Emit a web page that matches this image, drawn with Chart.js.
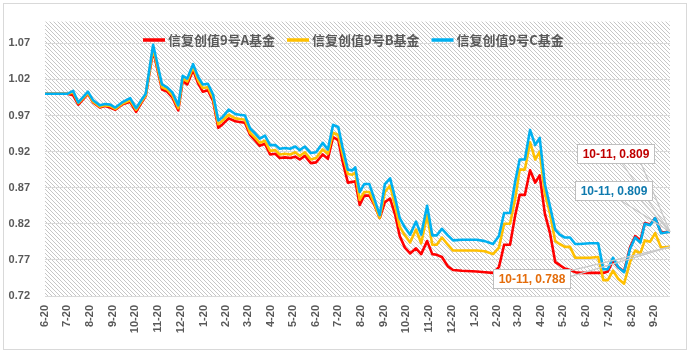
<!DOCTYPE html>
<html><head><meta charset="utf-8">
<script src="https://cdn.jsdelivr.net/npm/chart.js@4/dist/chart.umd.min.js"></script>
<style>html,body{margin:0;padding:0;background:#fff;}#wrap{width:693px;height:355px;}</style>
</head><body><div id="wrap"><canvas id="c" width="693" height="355"></canvas></div>
<script>
// days since the first date (6-20)
const dayOffsets = [
0,30,38,45,58,65,74,81,88,95,
104,115,123,130,136,146,158,165,172,180,
186,192,200,207,213,220,227,234,240,248,
257,263,270,277,284,290,297,304,311,317,
324,331,338,344,351,359,366,375,382,389,
396,402,409,415,419,425,431,438,444,452,
459,466,473,479,486,493,501,508,516,523,
529,536,544,551,563,583,594,605,613,620,
628,635,641,648,655,662,668,675,682,689,
695,702,709,716,722,736,747,754,760,767,
774,782,790,797,804,810,817,824,832,844];
const endDateLabel = '10-11';
const seriesNames = ['信复创值9号A基金','信复创值9号B基金','信复创值9号C基金'];
const fundA = [
1.000,1.000,0.998,0.985,1.000,0.988,0.981,0.983,0.981,0.978,
0.985,0.989,0.975,0.987,0.997,1.060,1.006,1.003,0.995,0.977,
1.018,1.013,1.033,1.014,1.003,1.005,0.990,0.953,0.958,0.966,
0.962,0.961,0.960,0.943,0.935,0.928,0.931,0.916,0.917,0.911,
0.912,0.911,0.913,0.909,0.914,0.904,0.905,0.916,0.910,0.940,
0.936,0.906,0.877,0.878,0.879,0.846,0.859,0.859,0.848,0.828,
0.850,0.855,0.832,0.803,0.787,0.779,0.786,0.778,0.796,0.778,
0.777,0.774,0.761,0.756,0.755,0.754,0.753,0.752,0.760,0.791,
0.791,0.832,0.860,0.860,0.894,0.877,0.887,0.834,0.807,0.767,
0.763,0.758,0.756,0.753,0.752,0.752,0.752,0.752,0.754,0.769,
0.760,0.754,0.787,0.803,0.797,0.821,0.819,0.828,0.808,0.809];
const fundB = [
1.000,1.000,1.002,0.987,1.001,0.989,0.982,0.984,0.983,0.979,
0.986,0.991,0.978,0.989,0.998,1.063,1.009,1.006,0.998,0.980,
1.021,1.017,1.037,1.018,1.008,1.009,0.994,0.958,0.963,0.971,
0.966,0.965,0.964,0.946,0.939,0.932,0.935,0.921,0.922,0.916,
0.917,0.916,0.919,0.914,0.919,0.909,0.911,0.923,0.917,0.946,
0.943,0.916,0.889,0.888,0.891,0.853,0.864,0.864,0.850,0.828,
0.864,0.873,0.844,0.816,0.804,0.794,0.812,0.793,0.832,0.791,
0.791,0.801,0.791,0.783,0.783,0.783,0.782,0.778,0.787,0.820,
0.820,0.855,0.895,0.895,0.933,0.909,0.920,0.862,0.834,0.796,
0.792,0.788,0.788,0.773,0.773,0.773,0.774,0.742,0.742,0.755,
0.744,0.737,0.767,0.783,0.779,0.797,0.795,0.807,0.787,0.788];
const fundC = [
1.000,1.000,1.004,0.988,1.003,0.991,0.984,0.986,0.985,0.981,
0.988,0.994,0.980,0.991,1.000,1.068,1.013,1.009,1.002,0.984,
1.025,1.021,1.041,1.023,1.013,1.014,0.999,0.963,0.968,0.978,
0.972,0.971,0.970,0.952,0.945,0.938,0.942,0.929,0.929,0.924,
0.925,0.924,0.927,0.922,0.927,0.918,0.919,0.932,0.923,0.957,
0.954,0.925,0.895,0.894,0.898,0.864,0.875,0.875,0.857,0.832,
0.875,0.883,0.855,0.828,0.815,0.805,0.823,0.805,0.845,0.804,
0.804,0.813,0.804,0.797,0.798,0.798,0.796,0.792,0.803,0.835,
0.835,0.879,0.909,0.909,0.950,0.929,0.939,0.875,0.844,0.812,
0.805,0.801,0.801,0.792,0.792,0.793,0.793,0.757,0.757,0.773,
0.760,0.753,0.785,0.801,0.794,0.820,0.818,0.828,0.807,0.809];
const xTickDays = [0,30,61,92,122,153,183,214,245,274,305,335,366,396,427,458,488,519,549,580,611,639,670,700,731,761,792,823];
const xTickLabels = ['6-20','7-20','8-20','9-20','10-20','11-20','12-20','1-20','2-20','3-20','4-20','5-20','6-20','7-20','8-20','9-20','10-20','11-20','12-20','1-20','2-20','3-20','4-20','5-20','6-20','7-20','8-20','9-20'];
const yTicks = [0.72,0.77,0.82,0.87,0.92,0.97,1.02,1.07];
const seriesColors = ['#FF0000','#FFC000','#00B0F0'];
const labelColors = ['#C00000','#E46C0A','#0F7AAE'];

const toPts = arr => arr.map((v,i)=>({x:dayOffsets[i], y:v}));

function makePattern(ctx){
  const p = document.createElement('canvas'); p.width=4; p.height=4;
  const c = p.getContext('2d');
  c.fillStyle='#ffffff'; c.fillRect(0,0,4,4);
  c.fillStyle='#c6c6c6';
  for(let i=0;i<4;i++) c.fillRect(i,i,1,1);
  return ctx.createPattern(p,'repeat');
}

const bgPlugin = {id:'bg', beforeDraw(chart){
  const {ctx, chartArea:a} = chart;
  ctx.save();
  ctx.fillStyle='#fff'; ctx.fillRect(0,0,chart.width,chart.height);
  ctx.strokeStyle='#d9d9d9'; ctx.lineWidth=1;
  ctx.strokeRect(3.5,3.5,683,346);
  ctx.fillStyle=makePattern(ctx);
  ctx.fillRect(a.left,a.top,a.right-a.left,a.bottom-a.top);
  ctx.restore();
}};

const legendPlugin = {id:'legendOverlay', afterDatasetsDraw(chart){
  const ctx = chart.ctx; ctx.save();
  ctx.font = 'bold 13px "Noto Sans CJK SC"';
  ctx.textBaseline='middle';
  let x = 143; const y = 40;
  chart.data.datasets.forEach(ds=>{
    ctx.strokeStyle=ds.borderColor; ctx.lineWidth=3.5;
    ctx.beginPath(); ctx.moveTo(x,y); ctx.lineTo(x+22,y); ctx.stroke();
    x += 25;
    ctx.fillStyle='#595959';
    ctx.fillText(ds.label, x, y);
    x += ctx.measureText(ds.label).width + 12;
  });
  ctx.restore();
}};

// callout layout: offsets of box centre from the point, and leg anchors
const calloutLayout = [
  {series:0, dx:-55, dy:-78, legs:[[7,'b'],[26,'b']]},
  {series:2, dx:-56.5, dy:-41.5, legs:[[6,'b'],[27,'b']]},
  {series:1, dx:-139, dy:32, legs:[[-8,'r'],[-2,'r']]}
];
const calloutPlugin = {id:'callouts', afterDraw(chart){
  const ctx=chart.ctx, xs=chart.scales.x, ys=chart.scales.y;
  ctx.save();
  ctx.font='bold 12px "Liberation Sans", Arial, sans-serif';
  const boxes = calloutLayout.map(c=>{
    const data = chart.data.datasets[c.series].data;
    const last = data[data.length-1];
    const px = xs.getPixelForValue(last.x), py = ys.getPixelForValue(last.y);
    const text = endDateLabel + ', ' + last.y.toFixed(3);
    const w = Math.round(ctx.measureText(text).width + 10), h = 19;
    const cx = px + c.dx, cy = py + c.dy;
    return {c, px, py, text, w, h, cx, cy};
  });
  ctx.strokeStyle='#c8c8c8'; ctx.lineWidth=1.2;
  boxes.forEach(b=>{
    b.c.legs.forEach(([o,side])=>{
      let sx, sy;
      if(side==='b'){ sx=b.cx+o; sy=b.cy+b.h/2; } else { sx=b.cx+b.w/2; sy=b.cy+o; }
      ctx.beginPath(); ctx.moveTo(sx,sy); ctx.lineTo(b.px,b.py); ctx.stroke();
    });
  });
  boxes.forEach(b=>{
    const l = Math.round(b.cx-b.w/2)+0.5, t = Math.round(b.cy-b.h/2)+0.5;
    ctx.fillStyle='#fff'; ctx.fillRect(l,t,b.w,b.h);
    ctx.strokeStyle='#bfbfbf'; ctx.lineWidth=1; ctx.strokeRect(l,t,b.w,b.h);
    ctx.fillStyle=labelColors[b.c.series]; ctx.textAlign='center'; ctx.textBaseline='middle';
    ctx.fillText(b.text, l+b.w/2, t+b.h/2+0.5);
  });
  ctx.restore();
}};

const tickFont = {family:'"Liberation Sans", Arial, sans-serif', size:11, weight:'bold'};
new Chart(document.getElementById('c'), {
  type:'line',
  data:{datasets:[
    {label:seriesNames[0], data:toPts(fundA), borderColor:seriesColors[0], order:2},
    {label:seriesNames[1], data:toPts(fundB), borderColor:seriesColors[1], order:1},
    {label:seriesNames[2], data:toPts(fundC), borderColor:seriesColors[2], order:0}
  ]},
  options:{
    responsive:false, animation:false, devicePixelRatio:1,
    layout:{padding:{left:0,right:23,top:17,bottom:0}},
    elements:{point:{radius:0}, line:{borderWidth:2.6, tension:0, borderJoinStyle:'round', fill:false}},
    plugins:{legend:{display:false}, tooltip:{enabled:false}},
    scales:{
      x:{type:'linear', min:0, max:dayOffsets[dayOffsets.length-1],
        afterBuildTicks:s=>{s.ticks = xTickDays.map(v=>({value:v}));},
        afterFit:s=>{s.height=59;},
        grid:{display:false, drawTicks:false}, border:{display:false},
        ticks:{autoSkip:false, minRotation:90, maxRotation:90, padding:9, color:'#595959', font:tickFont,
          callback:(v,i)=>xTickLabels[i]}},
      y:{min:0.72, max:1.10,
        afterBuildTicks:s=>{s.ticks = yTicks.map(v=>({value:v}));},
        afterFit:s=>{s.width=45;},
        grid:{color:'#d9d9d9', lineWidth:1, drawTicks:false}, border:{display:false},
        ticks:{padding:15, color:'#595959', font:tickFont, callback:v=>v.toFixed(2)}}
    }
  },
  plugins:[bgPlugin, legendPlugin, calloutPlugin]
});
</script></body></html>
